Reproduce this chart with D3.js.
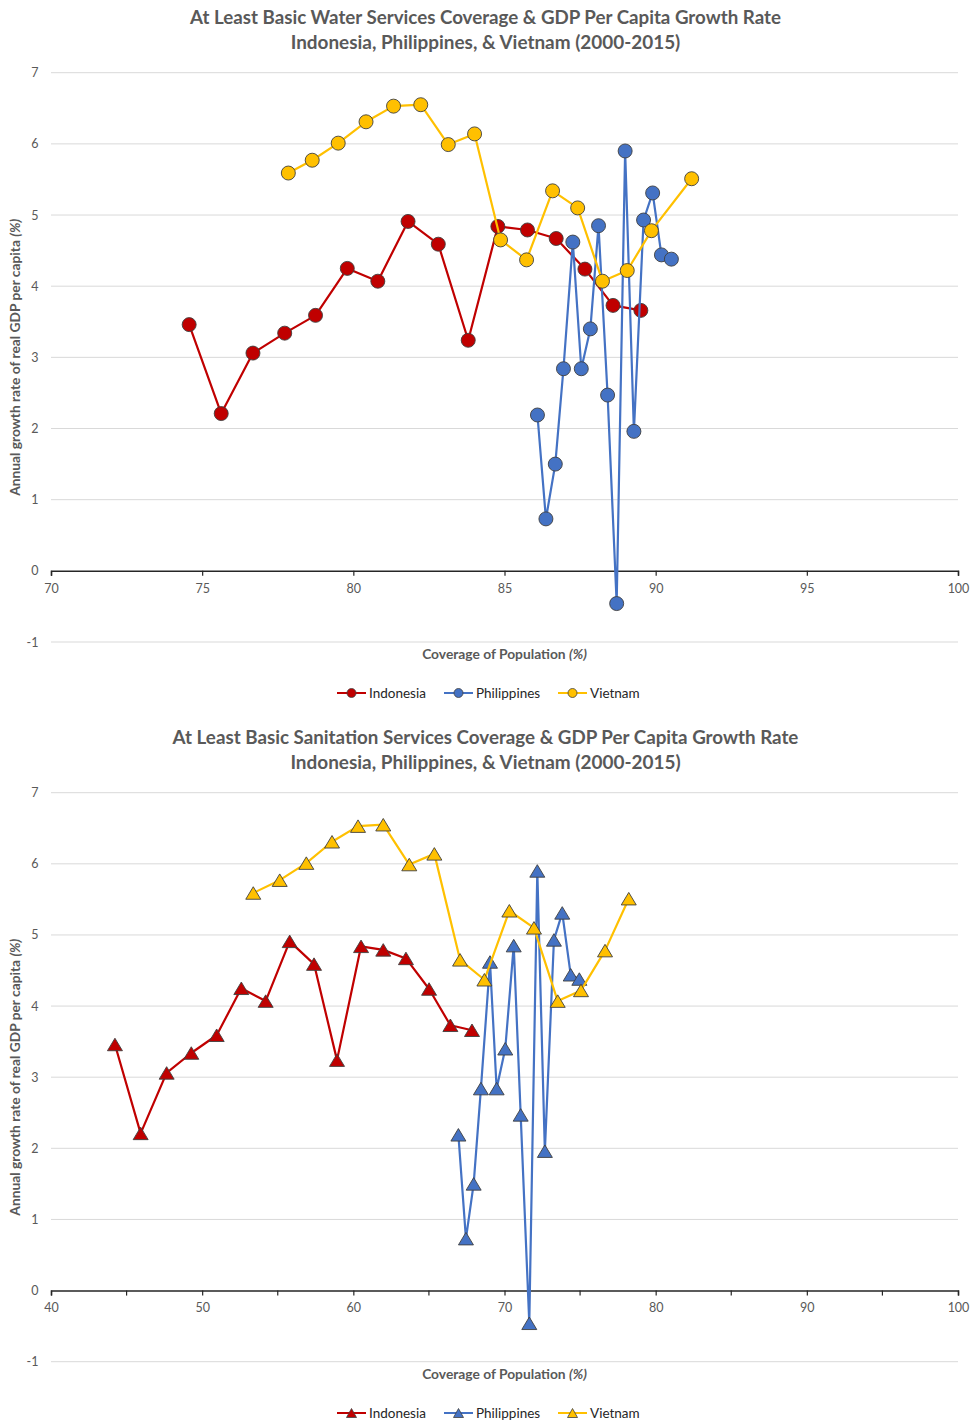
<!DOCTYPE html>
<html>
<head>
<meta charset="utf-8">
<script src="https://cdn.jsdelivr.net/npm/d3@7"></script>
<style>
  html, body { margin: 0; padding: 0; background: #fff; }
  svg { display: block; font-family: Lato, "Open Sans", "Liberation Sans", sans-serif; }
</style>
</head>
<body>
<svg id="chart" width="971" height="1422"></svg>
<script>
// ---------------- DATA ----------------
const countries = ["Indonesia", "Philippines", "Vietnam"];
const colors = ["#C00000", "#4472C4", "#FFC000"];

// Annual growth rate of real GDP per capita (%) 2000-2015
const gdpIndonesia   = [3.46, 2.21, 3.06, 3.34, 3.59, 4.25, 4.07, 4.91, 4.59, 3.24, 4.84, 4.79, 4.67, 4.24, 3.73, 3.66];
const gdpPhilippines = [2.19, 0.73, 1.50, 2.84, 4.62, 2.84, 3.40, 4.85, 2.47, -0.46, 5.90, 1.96, 4.93, 5.31, 4.44, 4.38];
const gdpVietnam     = [5.59, 5.77, 6.01, 6.31, 6.53, 6.55, 5.99, 6.14, 4.65, 4.37, 5.34, 5.10, 4.07, 4.22, 4.78, 5.51];

// At least basic water services coverage (%)
const waterIndonesia   = [74.57, 75.63, 76.68, 77.73, 78.75, 79.80, 80.81, 81.81, 82.81, 83.80, 84.78, 85.76, 86.71, 87.66, 88.59, 89.51];
const waterPhilippines = [86.09, 86.37, 86.68, 86.95, 87.26, 87.54, 87.84, 88.11, 88.41, 88.71, 88.99, 89.28, 89.60, 89.90, 90.19, 90.52];
const waterVietnam     = [77.85, 78.64, 79.50, 80.42, 81.33, 82.23, 83.14, 84.01, 84.87, 85.73, 86.59, 87.42, 88.24, 89.06, 89.86, 91.19];

// At least basic sanitation services coverage (%)
const sanIndonesia   = [44.23, 45.93, 47.65, 49.28, 50.96, 52.59, 54.20, 55.79, 57.40, 58.92, 60.51, 61.98, 63.48, 65.01, 66.42, 67.85];
const sanPhilippines = [66.95, 67.45, 67.96, 68.44, 69.04, 69.48, 70.05, 70.61, 71.07, 71.64, 72.17, 72.67, 73.27, 73.82, 74.38, 74.95];
const sanVietnam     = [53.38, 55.13, 56.89, 58.59, 60.31, 61.98, 63.70, 65.36, 67.06, 68.67, 70.32, 71.95, 73.52, 75.06, 76.65, 78.22];

const yTicks = [-1, 0, 1, 2, 3, 4, 5, 6, 7];
const waterXTicks = [70, 75, 80, 85, 90, 95, 100];
const sanXTicks = [40, 50, 60, 70, 80, 90, 100];
const sanXMinorTicks = [45, 55, 65, 75, 85, 95];

const waterTitle = ["At Least Basic Water Services Coverage & GDP Per Capita Growth Rate",
                    "Indonesia, Philippines, & Vietnam (2000-2015)"];
const sanTitle = ["At Least Basic Sanitation Services Coverage & GDP Per Capita Growth Rate",
                  "Indonesia, Philippines, & Vietnam (2000-2015)"];
const yLabel = "Annual growth rate of real GDP per capita ";
const xLabel = "Coverage of Population ";

// ---------------- DRAW ----------------
const svg = d3.select("#chart");
const textGray = "#595959";

function fitFont(sel, targetWidth, base) {
  const w = sel.node().getComputedTextLength();
  const fs = base * targetWidth / w;
  sel.attr("font-size", fs);
  return fs;
}

function trianglePath(w, h) {
  return `M0,${-h/2}L${w/2},${h/2}L${-w/2},${h/2}Z`;
}

function drawChart(cfg) {
  const g = svg.append("g");
  const x = d3.scaleLinear().domain(cfg.xDomain).range([51, 958]);
  const y = d3.scaleLinear().domain([-1, 7]).range([cfg.yBottom, cfg.yTop]);

  // title
  const t1 = g.append("text").attr("x", 485.5).attr("y", cfg.titleY)
    .attr("text-anchor", "middle").attr("font-weight", "bold").attr("fill", textGray)
    .attr("font-size", 18).text(cfg.title[0]);
  const fs = fitFont(t1, cfg.titleWidth, 18);
  g.append("text").attr("x", 485.5).attr("y", cfg.titleY + 24.5)
    .attr("text-anchor", "middle").attr("font-weight", "bold").attr("fill", textGray)
    .attr("font-size", fs * 1.01).text(cfg.title[1]);

  // gridlines
  g.append("g").selectAll("line").data(yTicks.filter(d => d !== 0)).join("line")
    .attr("x1", 51).attr("x2", 958)
    .attr("y1", d => y(d)).attr("y2", d => y(d))
    .attr("stroke", "#d9d9d9").attr("stroke-width", 1);

  // y tick labels
  g.append("g").selectAll("text").data(yTicks).join("text")
    .attr("x", 38.5).attr("y", d => y(d) + 4.5)
    .attr("text-anchor", "end").attr("fill", textGray).attr("font-size", 12.5)
    .text(d => d);

  // x axis at y=0
  const xAxis = d3.axisBottom(x).tickValues(cfg.xTicks).tickSize(5).tickFormat(d => d);
  const ax = g.append("g").attr("transform", `translate(0,${y(0)})`).call(xAxis);
  ax.select(".domain").attr("stroke", "#262626").attr("stroke-width", 1.5);
  ax.selectAll(".tick line").attr("stroke", "#262626").attr("stroke-width", 1.2);
  ax.selectAll(".tick text").attr("fill", textGray).attr("font-size", 12.5)
    .attr("font-family", "Lato, 'Open Sans', sans-serif").attr("dy", "0.71em").attr("y", 13);
  if (cfg.xMinor) {
    ax.append("g").selectAll("line").data(cfg.xMinor).join("line")
      .attr("x1", d => x(d)).attr("x2", d => x(d)).attr("y1", 0).attr("y2", 5)
      .attr("stroke", "#262626").attr("stroke-width", 1.2);
  }

  // axis titles
  const ymid = (cfg.yTop + cfg.yBottom) / 2;
  const yl = g.append("text")
    .attr("transform", `translate(20,${ymid}) rotate(-90)`)
    .attr("text-anchor", "middle").attr("font-weight", "bold").attr("fill", textGray)
    .attr("font-size", 12);
  yl.append("tspan").text(yLabel);
  yl.append("tspan").attr("font-style", "italic").text("(%)");
  fitFont(yl, 277, 12);

  const xl = g.append("text").attr("x", 504.5).attr("y", cfg.xLabelY)
    .attr("text-anchor", "middle").attr("font-weight", "bold").attr("fill", textGray)
    .attr("font-size", 12);
  xl.append("tspan").text(xLabel);
  xl.append("tspan").attr("font-style", "italic").text("(%)");
  fitFont(xl, 165, 12);

  // series
  const line = d3.line().x(d => x(d[0])).y(d => y(d[1]));
  cfg.series.forEach((s, i) => {
    const pts = s.xs.map((v, k) => [v, s.ys[k]]);
    const sg = g.append("g");
    sg.append("path").datum(pts).attr("d", line)
      .attr("fill", "none").attr("stroke", colors[i]).attr("stroke-width", 2.2)
      .attr("stroke-linejoin", "round");
    if (cfg.marker === "circle") {
      sg.selectAll("circle").data(pts).join("circle")
        .attr("cx", d => x(d[0])).attr("cy", d => y(d[1])).attr("r", 7)
        .attr("fill", colors[i]).attr("stroke", "#404040").attr("stroke-width", 0.9);
    } else {
      sg.selectAll("path.m").data(pts).join("path").attr("class", "m")
        .attr("transform", d => `translate(${x(d[0])},${y(d[1])})`)
        .attr("d", trianglePath(15, 12.5))
        .attr("fill", colors[i]).attr("stroke", "#404040").attr("stroke-width", 0.9)
        .attr("stroke-linejoin", "miter");
    }
  });

  // legend
  const legX = [337, 444, 558];
  const lg = g.append("g");
  countries.forEach((c, i) => {
    const lx = legX[i];
    const ly = cfg.legendY;
    lg.append("line").attr("x1", lx).attr("x2", lx + 29).attr("y1", ly).attr("y2", ly)
      .attr("stroke", colors[i]).attr("stroke-width", 2);
    if (cfg.marker === "circle") {
      lg.append("circle").attr("cx", lx + 14.5).attr("cy", ly).attr("r", 4.5)
        .attr("fill", colors[i]).attr("stroke", "#404040").attr("stroke-width", 0.8);
    } else {
      lg.append("path").attr("transform", `translate(${lx + 14.5},${ly})`)
        .attr("d", trianglePath(10, 9))
        .attr("fill", colors[i]).attr("stroke", "#404040").attr("stroke-width", 0.8);
    }
    lg.append("text").attr("x", lx + 32).attr("y", ly + 4.6)
      .attr("fill", "#262626").attr("font-size", 13.5).text(c);
  });
}

drawChart({
  title: waterTitle, titleY: 24, titleWidth: 591,
  xDomain: [70, 100], xTicks: waterXTicks, xMinor: null,
  yTop: 72.7, yBottom: 642,
  xLabelY: 659, legendY: 693, marker: "circle",
  series: [
    { xs: waterIndonesia, ys: gdpIndonesia },
    { xs: waterPhilippines, ys: gdpPhilippines },
    { xs: waterVietnam, ys: gdpVietnam }
  ]
});

drawChart({
  title: sanTitle, titleY: 744, titleWidth: 626,
  xDomain: [40, 100], xTicks: sanXTicks, xMinor: sanXMinorTicks,
  yTop: 792.7, yBottom: 1361.7,
  xLabelY: 1379, legendY: 1413, marker: "triangle",
  series: [
    { xs: sanIndonesia, ys: gdpIndonesia },
    { xs: sanPhilippines, ys: gdpPhilippines },
    { xs: sanVietnam, ys: gdpVietnam }
  ]
});
</script>
</body>
</html>
